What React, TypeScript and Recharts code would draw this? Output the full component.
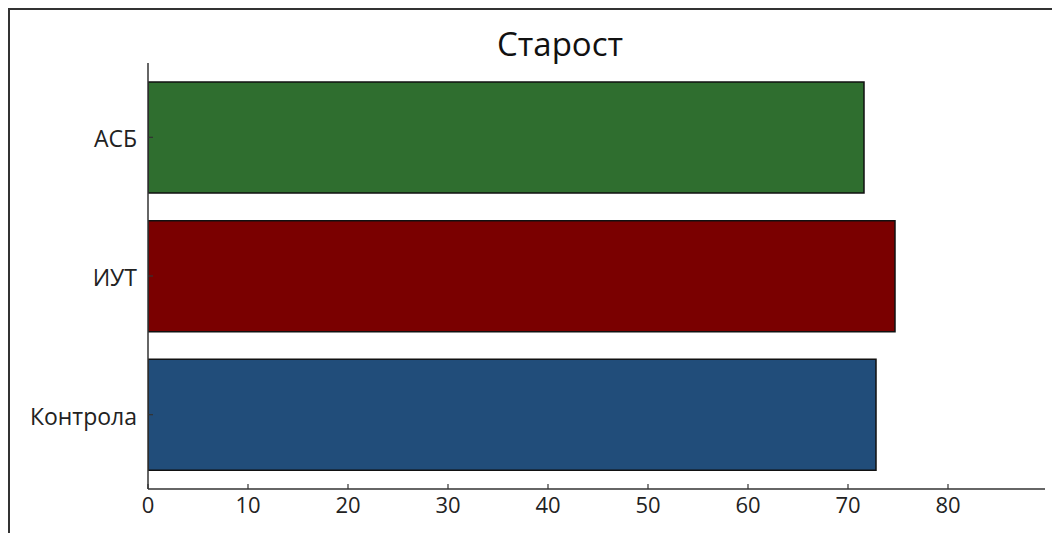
import React from "react";
import { BarChart, Bar, XAxis, YAxis, Cell } from "recharts";

const groups = ["АСБ", "ИУТ", "Контрола"];
const ages = [71.6, 74.7, 72.8];
const barColors = ["#2f6e2f", "#7a0000", "#214d7a"];
const xTicks = [0, 10, 20, 30, 40, 50, 60, 70, 80];
const chartTitle = "Старост";

const data = groups.map((g, i) => ({ group: g, age: ages[i] }));

const FONT = "'Open Sans', 'Noto Sans', sans-serif";

export default function App() {
  return (
    <div style={{ position: "absolute", left: 0, top: 0, width: 1052, height: 533, background: "#fff", overflow: "hidden" }}>
      <div
        style={{
          position: "absolute", left: 8, top: 8, width: 1060, height: 540,
          borderLeft: "2px solid #333", borderTop: "2px solid #333",
        }}
      />
      <div
        style={{
          position: "absolute", left: 460, width: 200, top: 22, textAlign: "center",
          fontFamily: FONT, fontSize: 33, color: "#111", lineHeight: "44px",
        }}
      >
        {chartTitle}
      </div>
      <div style={{ position: "absolute", left: 0, top: 0 }}>
        <BarChart
          layout="vertical"
          width={1052}
          height={533}
          data={data}
          margin={{ top: 63, right: 7, bottom: 14, left: 8 }}
        >
          <XAxis
            type="number"
            domain={[0, 89.7]}
            ticks={xTicks}
            allowDataOverflow
            height={30}
            tickSize={-5}
            tickMargin={13}
            axisLine={{ stroke: "#333", strokeWidth: 1.5 }}
            tickLine={{ stroke: "#333", strokeWidth: 1.2 }}
            tick={{ fontSize: 22, fill: "#222", fontFamily: FONT }}
          />
          <YAxis
            type="category"
            dataKey="group"
            width={140}
            padding={{ top: 5, bottom: 5 }}
            tickSize={-5}
            tickMargin={16}
            axisLine={{ stroke: "#333", strokeWidth: 1.5 }}
            tickLine={{ stroke: "#333", strokeWidth: 1.2 }}
            tick={{ fontSize: 23, fill: "#222", fontFamily: FONT, dy: 2 }}
          />
          <Bar dataKey="age" barSize={111} stroke="#111" strokeWidth={1.5} isAnimationActive={false}>
            {data.map((d, i) => (
              <Cell key={d.group} fill={barColors[i]} />
            ))}
          </Bar>
        </BarChart>
      </div>
    </div>
  );
}
